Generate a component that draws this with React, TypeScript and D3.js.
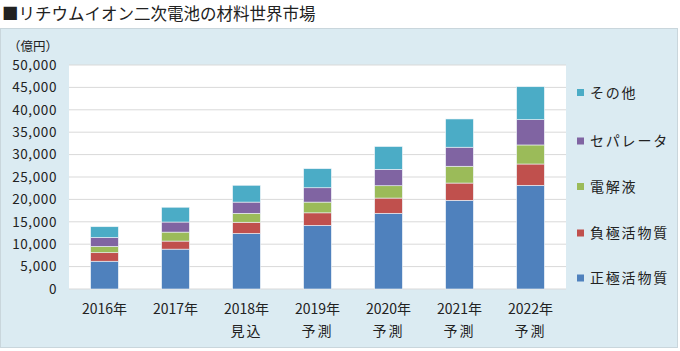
import React from 'react';
import * as d3 from 'd3';

// data (億円)
const years = ['2016年', '2017年', '2018年', '2019年', '2020年', '2021年', '2022年'];
const subLabels = ['', '', '見込', '予測', '予測', '予測', '予測'];
const seriesNames = ['正極活物質', '負極活物質', '電解液', 'セパレータ', 'その他'];
const cathode = [6200, 8900, 12400, 14200, 16900, 19800, 23150];
const anode = [1900, 1800, 2500, 2800, 3400, 3850, 4750];
const electrolyte = [1400, 2000, 2000, 2400, 2750, 3750, 4250];
const separator = [2000, 2250, 2500, 3200, 3650, 4250, 5650];
const others = [2400, 3300, 3750, 4250, 5100, 6300, 7350];
const yTicks = [0, 5000, 10000, 15000, 20000, 25000, 30000, 35000, 40000, 45000, 50000];

const colors = ['#4F81BD', '#C0504D', '#9BBB59', '#8064A2', '#4BACC6'];
const font = '"Noto Sans CJK JP", "Noto Sans", sans-serif';

const App = () => {
  const width = 680;
  const height = 351;
  const plot = { left: 69, right: 566, top: 65, bottom: 289 };

  const rows = years.map((y, i) => ({
    year: y,
    正極活物質: cathode[i],
    負極活物質: anode[i],
    電解液: electrolyte[i],
    セパレータ: separator[i],
    その他: others[i],
  }));
  const stacked = d3.stack().keys(seriesNames)(rows as any);

  const x = d3.scaleBand().domain(years).range([plot.left, plot.right]).paddingInner(0.61).paddingOuter(0.305);
  const y = d3.scaleLinear().domain([0, 50000]).range([plot.bottom, plot.top]);
  const fmt = d3.format(',');

  const legendY = [278, 233, 186.5, 141, 92.5]; // bottom to top, same order as seriesNames

  return (
    <svg width={width} height={height} style={{ position: 'absolute', left: 0, top: 0 }} fontFamily={font}>
      <rect width={width} height={height} fill="#fff" />
      <text x={2} y={20} fontSize={16.5} fill="#222">■リチウムイオン二次電池の材料世界市場</text>

      <rect x={0.5} y={28.5} width={677} height={319} fill="#DBEBF2" stroke="#C9D6DC" />
      <rect x={plot.left} y={plot.top} width={plot.right - plot.left} height={plot.bottom - plot.top} fill="#fff" />

      {yTicks.map(t => (
        <g key={t}>
          <line x1={plot.left} x2={plot.right} y1={y(t)} y2={y(t)} stroke="#D9D9D9" strokeWidth={1} />
          <text x={57} y={y(t)} dy="0.36em" textAnchor="end" fontSize={13.5} letterSpacing={0.6} fill="#222">{fmt(t)}</text>
        </g>
      ))}
      <text x={58} y={46} dy="0.36em" textAnchor="end" fontSize={12.5} fill="#222">（億円）</text>

      {stacked.map((s, si) => (
        <g key={s.key} fill={colors[si]}>
          {s.map((d, i) => (
            <rect key={i} x={x(years[i])} width={x.bandwidth()} y={y(d[1])} height={y(d[0]) - y(d[1])}
              stroke="#EEF4F8" strokeWidth={0.6} />
          ))}
        </g>
      ))}

      {years.map((yr, i) => (
        <g key={yr} fontSize={14} fill="#222" textAnchor="middle">
          <text x={(x(yr) as number) + x.bandwidth() / 2} y={309} dy="0.36em">{yr}</text>
          <text x={(x(yr) as number) + x.bandwidth() / 2} y={331} dy="0.36em" letterSpacing={2}>{subLabels[i]}</text>
        </g>
      ))}

      {seriesNames.map((n, i) => (
        <g key={n}>
          <rect x={577} y={legendY[i] - 3.5} width={7} height={7} fill={colors[i]} />
          <text x={590} y={legendY[i]} dy="0.36em" fontSize={14} letterSpacing={1.8} fill="#222">{n}</text>
        </g>
      ))}
    </svg>
  );
};

export default App;
